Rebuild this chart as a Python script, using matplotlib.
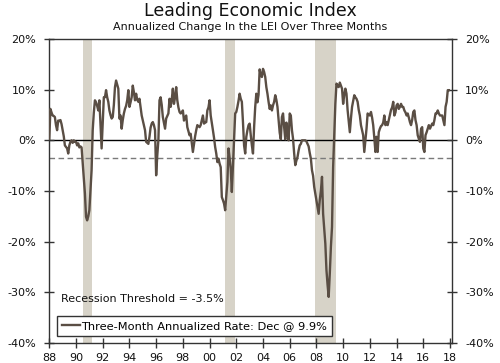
import numpy as np
import matplotlib
matplotlib.use("Agg")
import matplotlib.pyplot as plt
from matplotlib.ticker import FuncFormatter, FixedLocator

# ---- data: monthly 3-month annualized % change in LEI, Jan 1988 - Dec 2017
lei_1988_1997 = [
    0.3, 6.2, 5.5, 4.9, 4.8, 4.6, 3.0, 2.0, 3.9, 3.8, 4.0, 3.2,          # 1988
    2.0, 0.8, -1.0, -1.3, -1.6, -2.6, -1.0, -0.3, 0.0, -0.5, 0.0, -0.3,  # 1989
    -0.3, -1.0, -0.6, -1.4, -1.2, -1.4, -4.6, -7.5, -10.5, -15.1, -15.8, -15.0,  # 1990
    -13.8, -10.0, -5.9, 2.0, 5.5, 7.9, 7.5, 6.8, 5.9, 7.9, 3.0, -1.6,   # 1991
    3.3, 8.5, 8.5, 9.9, 8.5, 7.6, 5.9, 5.0, 4.3, 4.6, 7.0, 10.5,        # 1992
    11.8, 11.0, 10.2, 4.3, 4.9, 2.3, 4.0, 5.3, 6.2, 6.8, 7.9, 9.9,      # 1993
    6.6, 7.5, 8.5, 10.8, 9.5, 7.9, 9.2, 8.0, 7.6, 8.2, 6.5, 4.9,        # 1994
    3.9, 3.0, 2.0, -0.3, -0.5, -0.7, 0.7, 2.5, 3.3, 3.6, 3.0, 2.0,      # 1995
    -6.9, -3.0, 0.0, 7.9, 8.5, 7.0, 4.6, 3.5, 2.3, 4.3, 4.8, 5.3,       # 1996
    8.2, 6.6, 8.0, 10.2, 7.2, 8.5, 10.5, 7.9, 6.5, 5.6, 5.3, 5.5,       # 1997
]
lei_1998_2007 = [
    5.9, 3.9, 4.5, 4.9, 2.6, 1.8, 1.0, 1.3, -0.5, -2.3, -0.7, 0.8,      # 1998
    2.0, 3.0, 2.8, 2.6, 3.0, 4.0, 4.9, 3.3, 3.5, 3.6, 5.9, 6.5,         # 1999
    7.9, 4.9, 3.5, 2.0, 0.5, -1.3, -2.6, -4.3, -3.6, -4.6, -5.3, -11.2, # 2000
    -11.8, -12.5, -13.8, -11.0, -8.2, -1.6, -3.5, -5.6, -10.2, -5.0, 0.7, 5.3,  # 2001
    5.6, 6.6, 7.8, 9.2, 8.2, 7.6, 3.6, -1.0, -2.6, 0.7, 2.0, 3.0,       # 2002
    3.3, 1.0, -1.0, -2.6, 2.6, 6.6, 9.2, 7.5, 9.0, 14.0, 12.8, 12.5,    # 2003
    14.1, 13.5, 12.5, 10.5, 9.2, 7.6, 6.2, 6.9, 5.9, 6.9, 7.6, 8.9,     # 2004
    8.0, 6.6, 4.0, 1.5, 0.2, 4.6, 5.3, 2.6, 0.2, 3.5, 1.5, 0.0,         # 2005
    5.3, 4.9, 2.0, 0.3, -2.6, -4.9, -4.0, -3.3, -2.0, -1.0, -0.7, 0.0,  # 2006
    0.0, 0.0, 0.0, -0.2, -0.7, -1.2, -2.5, -3.6, -5.9, -7.0, -9.2, -10.5,  # 2007
]
lei_2008_2017 = [
    -11.8, -13.0, -14.5, -11.8, -10.0, -7.2, -14.5, -17.5, -20.4, -25.6, -28.5, -30.9,  # 2008
    -26.3, -21.0, -17.1, -5.3, 1.0, 7.2, 11.2, 10.8, 10.5, 11.4, 10.8, 10.2,  # 2009
    7.2, 9.0, 10.2, 9.2, 6.0, 3.9, 1.6, 4.3, 6.6, 7.8, 8.9, 8.5,        # 2010
    8.2, 7.6, 6.0, 4.9, 3.0, 2.0, 1.0, -2.3, 0.0, 2.3, 5.3, 5.0,        # 2011
    4.9, 5.6, 4.5, 3.0, 0.5, -2.3, 0.7, -2.3, 1.6, 2.3, 2.8, 3.0,       # 2012
    3.5, 4.9, 3.0, 3.6, 3.0, 4.0, 4.9, 6.0, 6.5, 7.6, 4.9, 5.5,         # 2013
    6.9, 7.2, 6.2, 6.6, 7.2, 6.6, 6.6, 5.9, 5.5, 4.9, 5.3, 4.5,         # 2014
    3.6, 3.0, 4.0, 5.6, 5.9, 4.0, 3.0, 1.0, 0.3, -0.3, 2.3, 2.6,        # 2015
    -1.6, -2.3, 1.0, 1.6, 2.3, 3.0, 2.3, 2.8, 3.3, 3.0, 4.0, 5.3,       # 2016
    5.3, 5.9, 5.3, 4.9, 4.9, 4.9, 3.9, 3.0, 6.6, 7.6, 9.9, 9.9,         # 2017
]
start_year = 1988
recessions = [(1990 + 6/12, 1991 + 2/12), (2001 + 2/12, 2001 + 11/12), (2007 + 11/12, 2009 + 6/12)]
threshold = -3.5
year_ticks = list(range(1988, 2019, 2))
year_labels = [f"{y % 100:02d}" for y in year_ticks]
y_ticks = [-40, -30, -20, -10, 0, 10, 20]

values = np.array(lei_1988_1997 + lei_1998_2007 + lei_2008_2017)
dates = start_year + np.arange(len(values)) / 12.0

line_color = "#5a4e44"
band_color = "#d7d3c8"
spine_color = "#333333"

plt.rcParams['font.family'] = ['DejaVu Sans']
fig = plt.figure(figsize=(5.0, 3.63), dpi=100)
ax = fig.add_axes([0.0986, 0.0551, 0.8054, 0.8375])

for a, b in recessions:
    ax.axvspan(a, b, color=band_color, lw=0, zorder=0)
ax.axhline(0, color="black", lw=1.0, zorder=1)
ax.axhline(threshold, color="#7a7a7a", lw=1.0, ls=(0, (4, 2.5)), zorder=1)
ln, = ax.plot(dates, values, color=line_color, lw=1.7, zorder=3,
              label="Three-Month Annualized Rate: Dec @ 9.9%")

ax.set_xlim(1988, 2018.15)
ax.set_ylim(-40, 20)
ax.xaxis.set_major_locator(FixedLocator(year_ticks))
ax.set_xticklabels(year_labels)
ax.yaxis.set_major_locator(FixedLocator(y_ticks))
ax.yaxis.set_major_formatter(FuncFormatter(lambda v, p: f"{int(v)}%"))
ax.tick_params(axis='both', direction='inout', length=7, width=1, color=spine_color,
               labelsize=8, labelcolor="#111111")
ax.tick_params(axis='y', right=True, labelright=True, pad=6)
ax.tick_params(axis='x', pad=4)
for s in ax.spines.values():
    s.set_color(spine_color)
    s.set_linewidth(1.0)

ax.text(0.028, 0.145, "Recession Threshold = -3.5%", transform=ax.transAxes,
        fontsize=8, color="#111111", va="center", ha="left")

leg = ax.legend(handles=[ln], loc="lower left", bbox_to_anchor=(0.018, 0.023),
                borderaxespad=0, fontsize=8.2, handlelength=1.6, handletextpad=0.1,
                fancybox=False, framealpha=1, edgecolor=spine_color,
                borderpad=0.45)
leg.get_frame().set_linewidth(1.0)
leg.set_zorder(5)

fig.text(0.5, 1 - 15.5/363, "Leading Economic Index", ha="center", va="baseline",
         fontsize=12.5, color="#111111")
fig.text(0.5, 1 - 29.5/363, "Annualized Change In the LEI Over Three Months", ha="center",
         va="baseline", fontsize=8, color="#111111")

fig.savefig("out.png", dpi=100)
